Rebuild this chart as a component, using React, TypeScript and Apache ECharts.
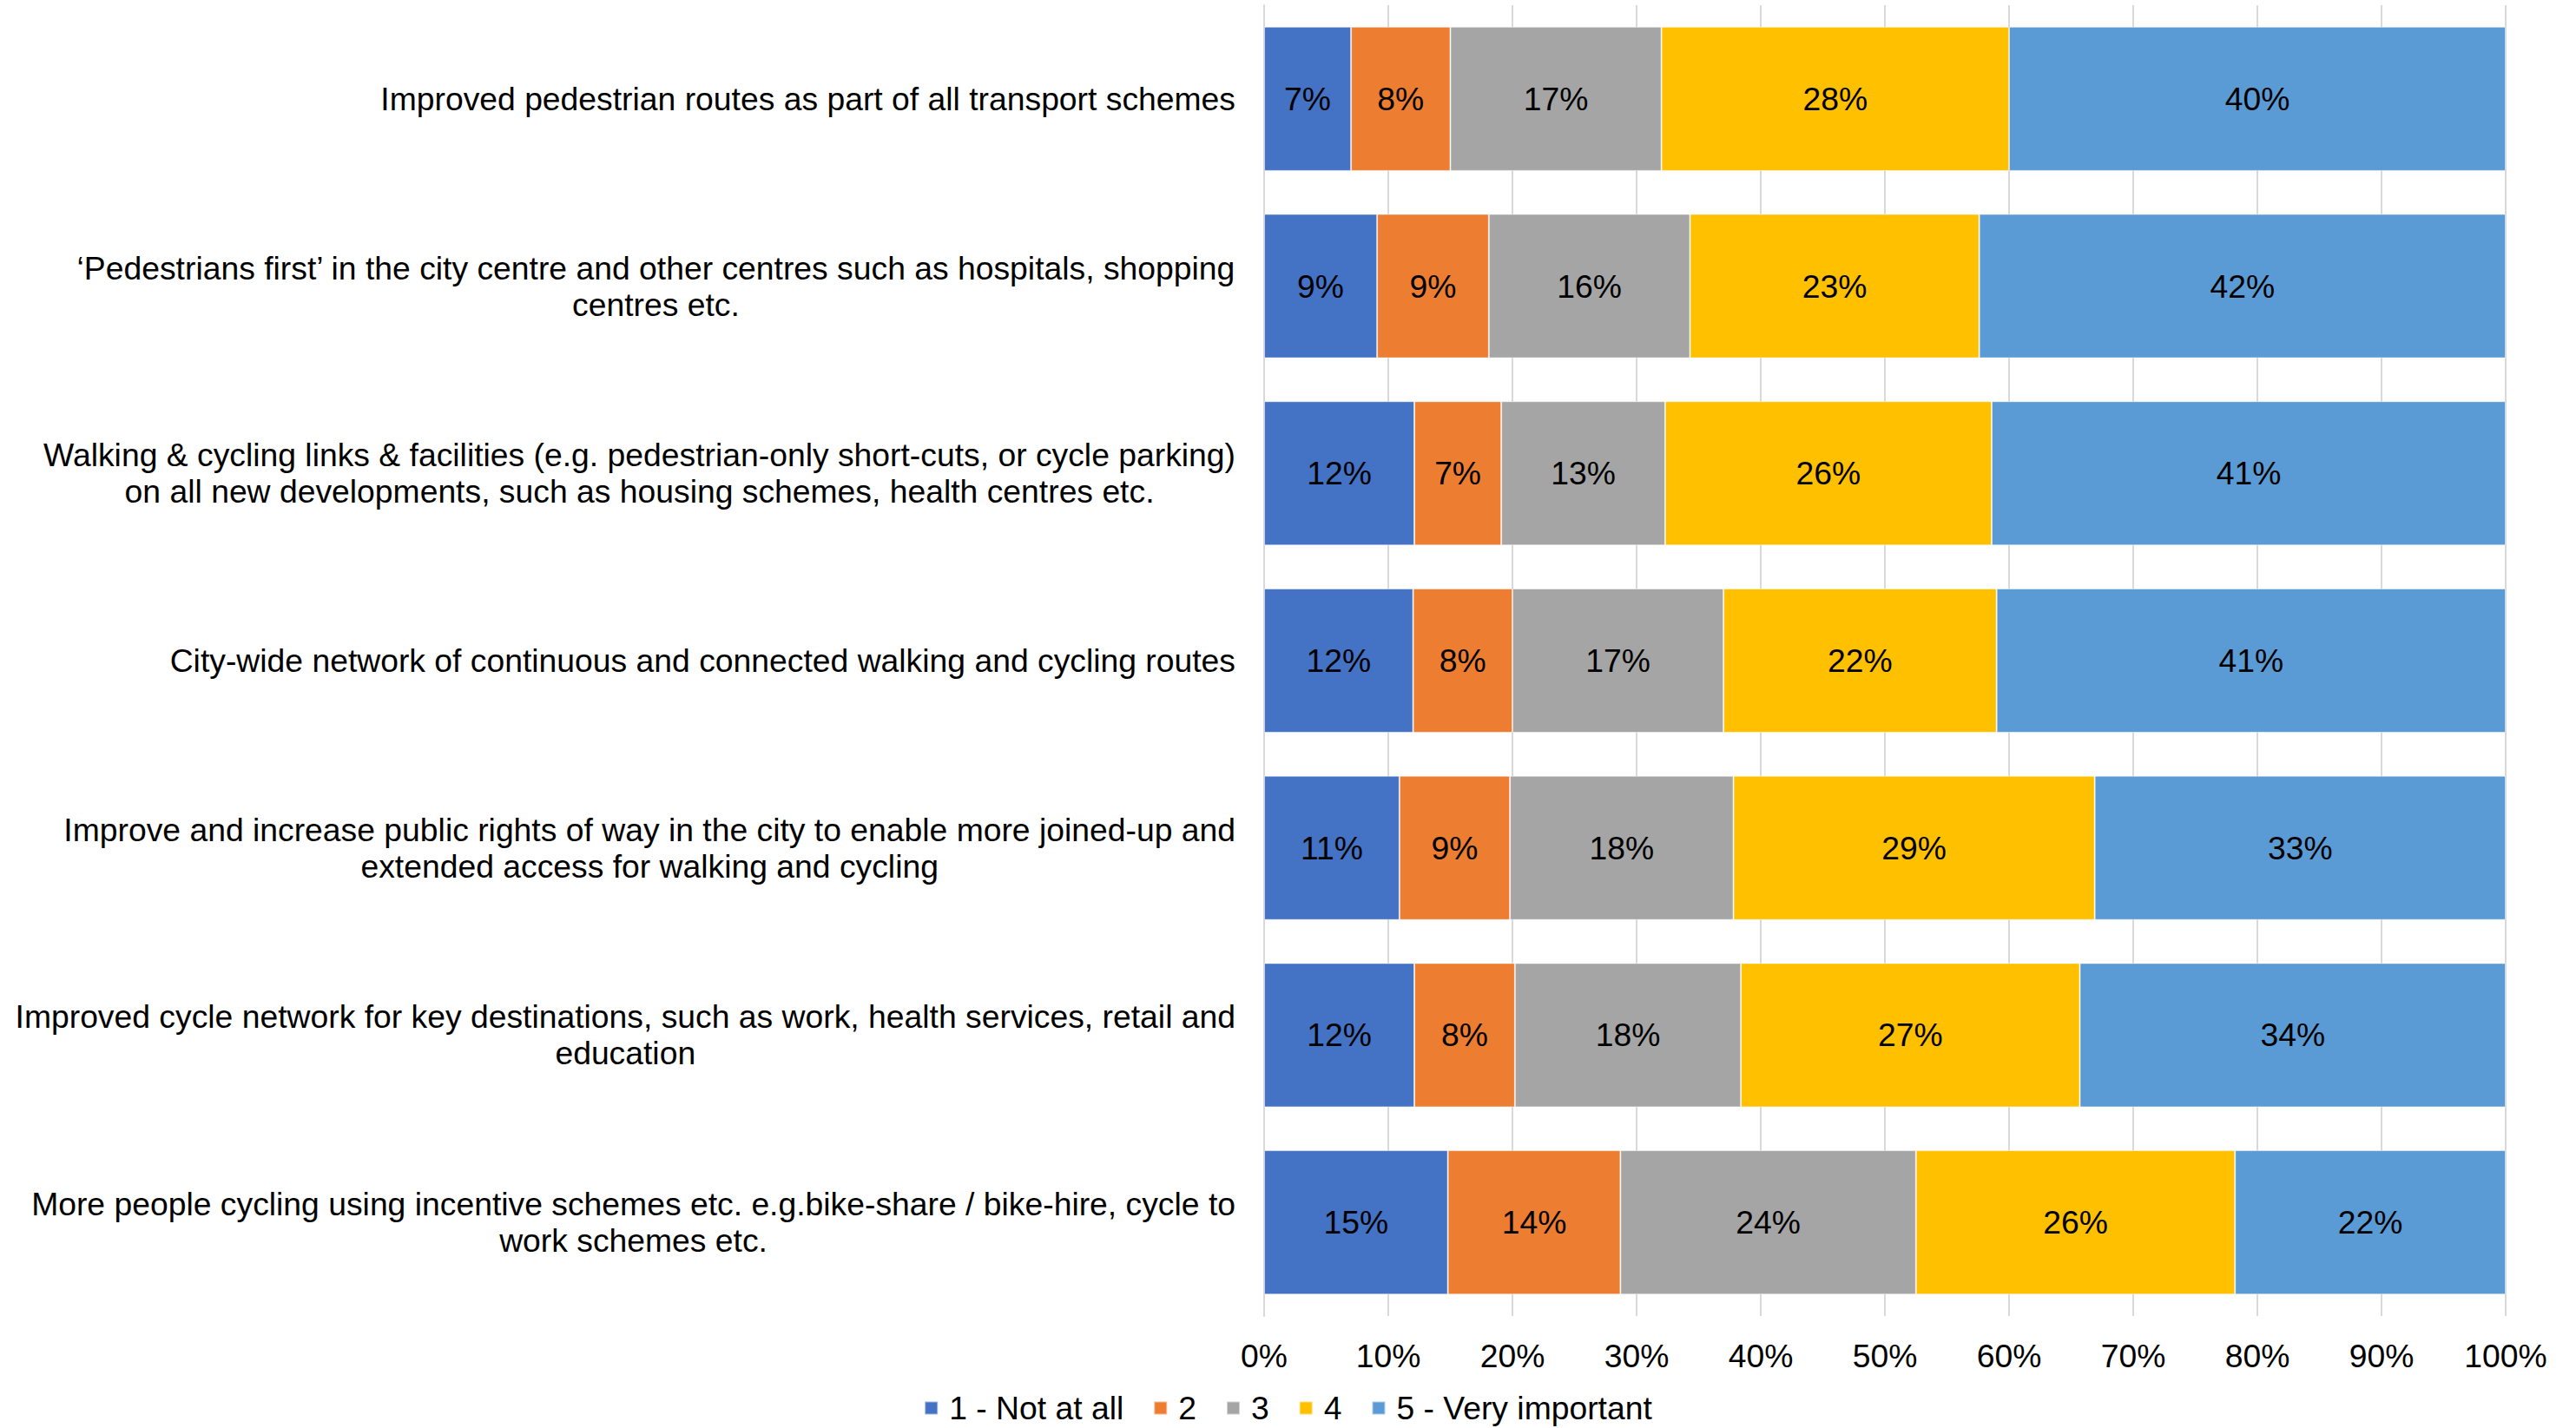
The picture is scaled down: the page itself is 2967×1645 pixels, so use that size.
import React, { useEffect, useRef } from "react";
import * as echarts from "echarts";

const categories = [
  "Improved pedestrian routes as part of all transport schemes",
  "‘Pedestrians first’ in the city centre and other centres such as hospitals, shopping\ncentres etc.",
  "Walking & cycling links & facilities (e.g. pedestrian-only short-cuts, or cycle parking)\non all new developments, such as housing schemes, health centres etc.",
  "City-wide network of continuous and connected walking and cycling routes",
  "Improve and increase public rights of way in the city to enable more joined-up and\nextended access for walking and cycling",
  "Improved cycle network for key destinations, such as work, health services, retail and\neducation",
  "More people cycling using incentive schemes etc. e.g.bike-share / bike-hire, cycle to\nwork schemes etc.",
];

const seriesNames = ["1 - Not at all", "2", "3", "4", "5 - Very important"];
const seriesColors = ["#4472C4", "#ED7D31", "#A5A5A5", "#FFC000", "#5B9BD5"];

const notAtAll = [7.0, 9.1, 12.1, 12.0, 10.9, 12.1, 14.8];
const two = [8.0, 9.0, 7.0, 8.0, 8.9, 8.1, 13.9];
const three = [17.0, 16.2, 13.2, 17.0, 18.0, 18.2, 23.8];
const four = [28.0, 23.3, 26.3, 22.0, 29.1, 27.3, 25.7];
const veryImportant = [40.0, 42.4, 41.4, 41.0, 33.1, 34.3, 21.8];

const seriesValues = [notAtAll, two, three, four, veryImportant];

const FONT = "'Liberation Sans', Arial, sans-serif";
const FS = 37.3;

export default function App() {
  const ref = useRef<HTMLDivElement>(null);
  useEffect(() => {
    document.body.style.margin = "0";
    if (!ref.current) return;
    const chart = echarts.init(ref.current, null, { renderer: "svg" });
    chart.setOption({
      animation: false,
      backgroundColor: "#ffffff",
      textStyle: { fontFamily: FONT },
      grid: { left: 1456, right: 81, top: 6, bottom: 129, containLabel: false },
      legend: {
        data: seriesNames,
        left: "center",
        top: 1603,
        padding: 0,
        icon: "rect",
        itemWidth: 15,
        itemHeight: 15,
        itemGap: 34,
        textStyle: {
          fontSize: FS,
          lineHeight: 38,
          color: "#000",
          fontFamily: FONT,
          padding: [0, 0, 0, 8],
        },
      },
      xAxis: {
        type: "value",
        min: 0,
        max: 100,
        interval: 10,
        axisLine: { show: false },
        axisTick: { show: false },
        axisLabel: {
          formatter: "{value}%",
          fontSize: FS,
          color: "#000",
          fontFamily: FONT,
          margin: 27,
        },
        splitLine: { show: true, lineStyle: { color: "#D9D9D9", width: 2 } },
      },
      yAxis: {
        type: "category",
        inverse: true,
        data: categories,
        axisTick: { show: false },
        axisLine: { show: true, lineStyle: { color: "#D9D9D9", width: 2 } },
        axisLabel: {
          margin: 33,
          align: "right",
          color: "#000",
          fontSize: FS,
          fontFamily: FONT,
          formatter: (v: string) =>
            v
              .split("\n")
              .map((l) => `{c|${l}}`)
              .join("\n"),
          rich: {
            c: {
              align: "center",
              fontSize: FS,
              lineHeight: 42,
              color: "#000",
              fontFamily: FONT,
            },
          },
        },
      },
      series: seriesNames.map((name, i) => ({
        name,
        type: "bar",
        stack: "total",
        barCategoryGap: "23%",
        data: seriesValues[i],
        itemStyle: {
          color: seriesColors[i],
          borderColor: "rgba(255,255,255,0.5)",
          borderWidth: 1,
        },
        label: {
          show: true,
          position: "inside",
          color: "#000",
          fontSize: FS,
          fontFamily: FONT,
          formatter: (p: any) => `${Math.round(p.value)}%`,
        },
      })),
    });
    return () => chart.dispose();
  }, []);
  return <div ref={ref} style={{ width: 2967, height: 1645 }} />;
}
